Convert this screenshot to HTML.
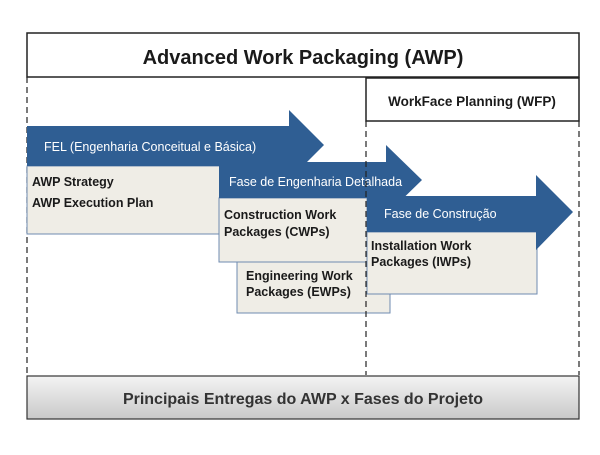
<!DOCTYPE html>
<html><head><meta charset="utf-8"><style>
body{margin:0;background:#fff;}
svg text{font-family:"Liberation Sans",sans-serif;}
</style></head><body>
<svg width="600" height="450" viewBox="0 0 600 450" xmlns="http://www.w3.org/2000/svg">
<defs>
<linearGradient id="g" x1="0" y1="0" x2="0" y2="1">
<stop offset="0" stop-color="#f4f4f4"/><stop offset="1" stop-color="#c9c9c9"/></linearGradient>
</defs>
<rect x="27" y="33" width="552" height="44" fill="#fff" stroke="#222" stroke-width="1.5"/>
<text x="303" y="64" text-anchor="middle" font-size="20" font-weight="bold" fill="#1a1a1a">Advanced Work Packaging (AWP)</text>
<g stroke="#222" stroke-width="1.2" stroke-dasharray="6,4">
<line x1="27" y1="77" x2="27" y2="375"/>
<line x1="579" y1="121" x2="579" y2="375"/>
</g>
<rect x="366" y="78" width="213" height="43" fill="#fff" stroke="#222" stroke-width="1.5"/>
<text x="472" y="106" text-anchor="middle" font-size="13.5" font-weight="bold" fill="#1a1a1a">WorkFace Planning (WFP)</text>
<rect x="27" y="166" width="200" height="68" fill="#efede6" stroke="#6f8bb0"/>
<polygon points="27,126 289,126 289,110 324,145 289,180 289,166 27,166" fill="#2f5e93"/>
<text x="44" y="151" font-size="12.5" fill="#fff">FEL (Engenharia Conceitual e Básica)</text>
<text x="32" y="186" font-size="12.5" font-weight="bold" fill="#1a1a1a">AWP Strategy</text>
<text x="32" y="207" font-size="12.5" font-weight="bold" fill="#1a1a1a">AWP Execution Plan</text>
<rect x="237" y="262" width="153" height="51" fill="#efede6" stroke="#6f8bb0"/>
<text x="246" y="280" font-size="12.5" font-weight="bold" fill="#1a1a1a">Engineering Work</text>
<text x="246" y="296" font-size="12.5" font-weight="bold" fill="#1a1a1a">Packages (EWPs)</text>
<rect x="219" y="198" width="148" height="64" fill="#efede6" stroke="#6f8bb0"/>
<polygon points="219,162 386,162 386,145 422,180 386,215 386,198 219,198" fill="#2f5e93"/>
<text x="229" y="186" font-size="12.5" fill="#fff">Fase de Engenharia Detalhada</text>
<text x="224" y="219" font-size="12.5" font-weight="bold" fill="#1a1a1a">Construction Work</text>
<text x="224" y="236" font-size="12.5" font-weight="bold" fill="#1a1a1a">Packages (CWPs)</text>
<rect x="367" y="232" width="170" height="62" fill="#efede6" stroke="#6f8bb0"/>
<polygon points="367,196 536,196 536,175 573,212 536,250 536,232 367,232" fill="#2f5e93"/>
<text x="384" y="218" font-size="12.5" fill="#fff">Fase de Construção</text>
<text x="371" y="250" font-size="12.5" font-weight="bold" fill="#1a1a1a">Installation Work</text>
<text x="371" y="266" font-size="12.5" font-weight="bold" fill="#1a1a1a">Packages (IWPs)</text>
<line x1="366" y1="121" x2="366" y2="375" stroke="#222" stroke-width="1.2" stroke-dasharray="6,4"/>
<rect x="27" y="376" width="552" height="43" fill="url(#g)" stroke="#333" stroke-width="1.2"/>
<text x="303" y="404" text-anchor="middle" font-size="16" font-weight="bold" fill="#333">Principais Entregas do AWP x Fases do Projeto</text>
</svg>
</body></html>
